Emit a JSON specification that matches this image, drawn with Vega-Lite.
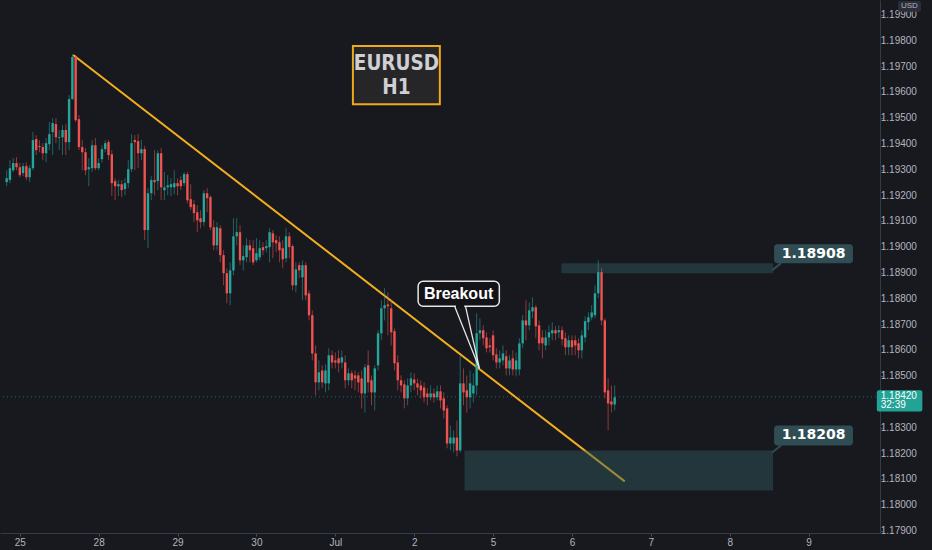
{
"$schema": "https://vega.github.io/schema/vega-lite/v6.json",
"width": 880,
"height": 533,
"autosize": {"type": "none"},
"padding": {"left": 0, "top": 0, "right": 52, "bottom": 17},
"background": "#18181f",
"config": {
"view": {"stroke": null},
"axis": {"labelFlush": false, "grid": false, "tickSize": 3,
"domainColor": "#363a45", "tickColor": "#4a4e59", "labelColor": "#b2b5be",
"labelFont": "Liberation Sans", "labelFontSize": 10},
"axisX": {"labelOverlap": false, "labelPadding": 1}
},
"datasets": {
"candles": [
{"t":-4,"o":1.19252,"h":1.19298,"l":1.19236,"c":1.19267},
{"t":-3,"o":1.19260,"h":1.19337,"l":1.19248,"c":1.19306},
{"t":-2,"o":1.19298,"h":1.19345,"l":1.19291,"c":1.19326},
{"t":-1,"o":1.19326,"h":1.19349,"l":1.19298,"c":1.19310},
{"t":0,"o":1.19310,"h":1.19326,"l":1.19271,"c":1.19279},
{"t":1,"o":1.19287,"h":1.19326,"l":1.19275,"c":1.19314},
{"t":2,"o":1.19314,"h":1.19329,"l":1.19260,"c":1.19271},
{"t":3,"o":1.19271,"h":1.19318,"l":1.19252,"c":1.19306},
{"t":4,"o":1.19306,"h":1.19446,"l":1.19298,"c":1.19415},
{"t":5,"o":1.19419,"h":1.19434,"l":1.19357,"c":1.19376},
{"t":6,"o":1.19392,"h":1.19415,"l":1.19368,"c":1.19388},
{"t":7,"o":1.19388,"h":1.19403,"l":1.19337,"c":1.19364},
{"t":8,"o":1.19364,"h":1.19423,"l":1.19329,"c":1.19403},
{"t":9,"o":1.19399,"h":1.19485,"l":1.19376,"c":1.19438},
{"t":10,"o":1.19446,"h":1.19500,"l":1.19357,"c":1.19481},
{"t":11,"o":1.19477,"h":1.19500,"l":1.19403,"c":1.19426},
{"t":12,"o":1.19423,"h":1.19454,"l":1.19376,"c":1.19426},
{"t":13,"o":1.19426,"h":1.19473,"l":1.19357,"c":1.19454},
{"t":14,"o":1.19454,"h":1.19477,"l":1.19357,"c":1.19407},
{"t":15,"o":1.19407,"h":1.19589,"l":1.19376,"c":1.19574},
{"t":16,"o":1.19574,"h":1.19748,"l":1.19570,"c":1.19737},
{"t":17,"o":1.19737,"h":1.19745,"l":1.19485,"c":1.19492},
{"t":18,"o":1.19496,"h":1.19512,"l":1.19376,"c":1.19388},
{"t":19,"o":1.19388,"h":1.19415,"l":1.19298,"c":1.19368},
{"t":20,"o":1.19368,"h":1.19384,"l":1.19279,"c":1.19298},
{"t":21,"o":1.19302,"h":1.19345,"l":1.19236,"c":1.19310},
{"t":22,"o":1.19306,"h":1.19415,"l":1.19291,"c":1.19395},
{"t":23,"o":1.19395,"h":1.19423,"l":1.19298,"c":1.19306},
{"t":24,"o":1.19306,"h":1.19345,"l":1.19298,"c":1.19326},
{"t":25,"o":1.19341,"h":1.19395,"l":1.19329,"c":1.19380},
{"t":26,"o":1.19380,"h":1.19415,"l":1.19368,"c":1.19403},
{"t":27,"o":1.19407,"h":1.19415,"l":1.19337,"c":1.19357},
{"t":28,"o":1.19360,"h":1.19376,"l":1.19198,"c":1.19248},
{"t":29,"o":1.19256,"h":1.19267,"l":1.19182,"c":1.19236},
{"t":30,"o":1.19236,"h":1.19260,"l":1.19198,"c":1.19244},
{"t":31,"o":1.19244,"h":1.19260,"l":1.19194,"c":1.19221},
{"t":32,"o":1.19225,"h":1.19267,"l":1.19201,"c":1.19248},
{"t":33,"o":1.19248,"h":1.19337,"l":1.19229,"c":1.19302},
{"t":34,"o":1.19302,"h":1.19438,"l":1.19291,"c":1.19403},
{"t":35,"o":1.19415,"h":1.19434,"l":1.19298,"c":1.19407},
{"t":36,"o":1.19411,"h":1.19438,"l":1.19306,"c":1.19364},
{"t":37,"o":1.19364,"h":1.19415,"l":1.19337,"c":1.19380},
{"t":38,"o":1.19380,"h":1.19392,"l":1.19027,"c":1.19066},
{"t":39,"o":1.19066,"h":1.19229,"l":1.18996,"c":1.19209},
{"t":40,"o":1.19209,"h":1.19275,"l":1.19182,"c":1.19260},
{"t":41,"o":1.19260,"h":1.19376,"l":1.19201,"c":1.19252},
{"t":42,"o":1.19256,"h":1.19376,"l":1.19221,"c":1.19364},
{"t":43,"o":1.19364,"h":1.19384,"l":1.19182,"c":1.19232},
{"t":44,"o":1.19221,"h":1.19291,"l":1.19182,"c":1.19232},
{"t":45,"o":1.19232,"h":1.19279,"l":1.19201,"c":1.19240},
{"t":46,"o":1.19232,"h":1.19267,"l":1.19198,"c":1.19244},
{"t":47,"o":1.19232,"h":1.19298,"l":1.19205,"c":1.19248},
{"t":48,"o":1.19248,"h":1.19267,"l":1.19201,"c":1.19236},
{"t":49,"o":1.19260,"h":1.19275,"l":1.19221,"c":1.19236},
{"t":50,"o":1.19248,"h":1.19291,"l":1.19236,"c":1.19283},
{"t":51,"o":1.19283,"h":1.19291,"l":1.19170,"c":1.19182},
{"t":52,"o":1.19186,"h":1.19244,"l":1.19143,"c":1.19155},
{"t":53,"o":1.19166,"h":1.19182,"l":1.19097,"c":1.19132},
{"t":54,"o":1.19135,"h":1.19163,"l":1.19058,"c":1.19104},
{"t":55,"o":1.19112,"h":1.19143,"l":1.19073,"c":1.19097},
{"t":56,"o":1.19097,"h":1.19221,"l":1.19081,"c":1.19209},
{"t":57,"o":1.19209,"h":1.19229,"l":1.19135,"c":1.19190},
{"t":58,"o":1.19194,"h":1.19201,"l":1.19066,"c":1.19077},
{"t":59,"o":1.19077,"h":1.19104,"l":1.18988,"c":1.19007},
{"t":60,"o":1.19007,"h":1.19097,"l":1.18988,"c":1.19077},
{"t":61,"o":1.19073,"h":1.19085,"l":1.18941,"c":1.18969},
{"t":62,"o":1.18969,"h":1.18988,"l":1.18852,"c":1.18899},
{"t":63,"o":1.18899,"h":1.18918,"l":1.18782,"c":1.18821},
{"t":64,"o":1.18821,"h":1.18941,"l":1.18775,"c":1.18910},
{"t":65,"o":1.18910,"h":1.19112,"l":1.18891,"c":1.19042},
{"t":66,"o":1.19042,"h":1.19112,"l":1.19007,"c":1.19058},
{"t":67,"o":1.19058,"h":1.19085,"l":1.18930,"c":1.18949},
{"t":68,"o":1.18949,"h":1.19007,"l":1.18910,"c":1.18965},
{"t":69,"o":1.18961,"h":1.19035,"l":1.18941,"c":1.19007},
{"t":70,"o":1.19007,"h":1.19027,"l":1.18941,"c":1.18988},
{"t":71,"o":1.18996,"h":1.19027,"l":1.18930,"c":1.18941},
{"t":72,"o":1.18949,"h":1.19035,"l":1.18941,"c":1.18976},
{"t":73,"o":1.18961,"h":1.19027,"l":1.18949,"c":1.18996},
{"t":74,"o":1.19000,"h":1.19019,"l":1.18969,"c":1.18988},
{"t":75,"o":1.18996,"h":1.19027,"l":1.18980,"c":1.19004},
{"t":76,"o":1.19000,"h":1.19073,"l":1.18941,"c":1.19058},
{"t":77,"o":1.19054,"h":1.19066,"l":1.18957,"c":1.19019},
{"t":78,"o":1.19027,"h":1.19046,"l":1.18980,"c":1.19015},
{"t":79,"o":1.19019,"h":1.19042,"l":1.18941,"c":1.18988},
{"t":80,"o":1.18996,"h":1.19027,"l":1.18918,"c":1.18953},
{"t":81,"o":1.18957,"h":1.19073,"l":1.18941,"c":1.19042},
{"t":82,"o":1.19042,"h":1.19058,"l":1.18957,"c":1.19000},
{"t":83,"o":1.19004,"h":1.19011,"l":1.18833,"c":1.18852},
{"t":84,"o":1.18852,"h":1.18941,"l":1.18825,"c":1.18914},
{"t":85,"o":1.18930,"h":1.18941,"l":1.18879,"c":1.18910},
{"t":86,"o":1.18883,"h":1.18949,"l":1.18794,"c":1.18930},
{"t":87,"o":1.18930,"h":1.18941,"l":1.18794,"c":1.18813},
{"t":88,"o":1.18821,"h":1.18833,"l":1.18716,"c":1.18736},
{"t":89,"o":1.18736,"h":1.18755,"l":1.18561,"c":1.18588},
{"t":90,"o":1.18588,"h":1.18619,"l":1.18425,"c":1.18476},
{"t":91,"o":1.18476,"h":1.18561,"l":1.18445,"c":1.18515},
{"t":92,"o":1.18522,"h":1.18542,"l":1.18453,"c":1.18476},
{"t":93,"o":1.18472,"h":1.18546,"l":1.18437,"c":1.18522},
{"t":94,"o":1.18472,"h":1.18608,"l":1.18445,"c":1.18581},
{"t":95,"o":1.18581,"h":1.18600,"l":1.18530,"c":1.18553},
{"t":96,"o":1.18561,"h":1.18592,"l":1.18530,"c":1.18553},
{"t":97,"o":1.18569,"h":1.18600,"l":1.18515,"c":1.18550},
{"t":98,"o":1.18553,"h":1.18600,"l":1.18530,"c":1.18573},
{"t":99,"o":1.18553,"h":1.18581,"l":1.18453,"c":1.18484},
{"t":100,"o":1.18484,"h":1.18530,"l":1.18464,"c":1.18511},
{"t":101,"o":1.18511,"h":1.18522,"l":1.18453,"c":1.18484},
{"t":102,"o":1.18503,"h":1.18522,"l":1.18445,"c":1.18491},
{"t":103,"o":1.18503,"h":1.18515,"l":1.18437,"c":1.18476},
{"t":104,"o":1.18491,"h":1.18522,"l":1.18375,"c":1.18433},
{"t":105,"o":1.18433,"h":1.18546,"l":1.18359,"c":1.18534},
{"t":106,"o":1.18542,"h":1.18600,"l":1.18437,"c":1.18476},
{"t":107,"o":1.18484,"h":1.18503,"l":1.18387,"c":1.18437},
{"t":108,"o":1.18437,"h":1.18542,"l":1.18367,"c":1.18530},
{"t":109,"o":1.18542,"h":1.18678,"l":1.18522,"c":1.18666},
{"t":110,"o":1.18666,"h":1.18794,"l":1.18639,"c":1.18763},
{"t":111,"o":1.18763,"h":1.18841,"l":1.18716,"c":1.18775},
{"t":112,"o":1.18778,"h":1.18825,"l":1.18658,"c":1.18771},
{"t":113,"o":1.18763,"h":1.18794,"l":1.18619,"c":1.18670},
{"t":114,"o":1.18674,"h":1.18685,"l":1.18522,"c":1.18550},
{"t":115,"o":1.18553,"h":1.18581,"l":1.18445,"c":1.18484},
{"t":116,"o":1.18484,"h":1.18503,"l":1.18437,"c":1.18464},
{"t":117,"o":1.18468,"h":1.18484,"l":1.18375,"c":1.18414},
{"t":118,"o":1.18414,"h":1.18491,"l":1.18387,"c":1.18464},
{"t":119,"o":1.18464,"h":1.18515,"l":1.18437,"c":1.18491},
{"t":120,"o":1.18487,"h":1.18511,"l":1.18445,"c":1.18472},
{"t":121,"o":1.18472,"h":1.18491,"l":1.18425,"c":1.18456},
{"t":122,"o":1.18464,"h":1.18484,"l":1.18414,"c":1.18445},
{"t":123,"o":1.18456,"h":1.18476,"l":1.18398,"c":1.18418},
{"t":124,"o":1.18433,"h":1.18453,"l":1.18387,"c":1.18418},
{"t":125,"o":1.18418,"h":1.18464,"l":1.18406,"c":1.18433},
{"t":126,"o":1.18433,"h":1.18453,"l":1.18398,"c":1.18418},
{"t":127,"o":1.18418,"h":1.18464,"l":1.18406,"c":1.18441},
{"t":128,"o":1.18441,"h":1.18464,"l":1.18375,"c":1.18406},
{"t":129,"o":1.18414,"h":1.18437,"l":1.18336,"c":1.18367},
{"t":130,"o":1.18375,"h":1.18387,"l":1.18220,"c":1.18239},
{"t":131,"o":1.18239,"h":1.18309,"l":1.18212,"c":1.18262},
{"t":132,"o":1.18239,"h":1.18290,"l":1.18204,"c":1.18262},
{"t":133,"o":1.18262,"h":1.18328,"l":1.18189,"c":1.18212},
{"t":134,"o":1.18212,"h":1.18577,"l":1.18204,"c":1.18472},
{"t":135,"o":1.18472,"h":1.18530,"l":1.18387,"c":1.18437},
{"t":136,"o":1.18445,"h":1.18503,"l":1.18359,"c":1.18418},
{"t":137,"o":1.18418,"h":1.18522,"l":1.18375,"c":1.18472},
{"t":138,"o":1.18433,"h":1.18511,"l":1.18398,"c":1.18464},
{"t":139,"o":1.18464,"h":1.18744,"l":1.18425,"c":1.18666},
{"t":140,"o":1.18666,"h":1.18724,"l":1.18639,"c":1.18678},
{"t":141,"o":1.18678,"h":1.18697,"l":1.18619,"c":1.18647},
{"t":142,"o":1.18650,"h":1.18670,"l":1.18592,"c":1.18608},
{"t":143,"o":1.18619,"h":1.18647,"l":1.18592,"c":1.18612},
{"t":144,"o":1.18658,"h":1.18678,"l":1.18561,"c":1.18581},
{"t":145,"o":1.18584,"h":1.18608,"l":1.18530,"c":1.18553},
{"t":146,"o":1.18553,"h":1.18600,"l":1.18530,"c":1.18569},
{"t":147,"o":1.18561,"h":1.18619,"l":1.18542,"c":1.18588},
{"t":148,"o":1.18577,"h":1.18600,"l":1.18503,"c":1.18530},
{"t":149,"o":1.18530,"h":1.18581,"l":1.18503,"c":1.18561},
{"t":150,"o":1.18569,"h":1.18600,"l":1.18503,"c":1.18526},
{"t":151,"o":1.18526,"h":1.18592,"l":1.18499,"c":1.18561},
{"t":152,"o":1.18526,"h":1.18647,"l":1.18503,"c":1.18627},
{"t":153,"o":1.18627,"h":1.18736,"l":1.18608,"c":1.18716},
{"t":154,"o":1.18716,"h":1.18794,"l":1.18639,"c":1.18697},
{"t":155,"o":1.18697,"h":1.18786,"l":1.18678,"c":1.18755},
{"t":156,"o":1.18751,"h":1.18806,"l":1.18724,"c":1.18767},
{"t":157,"o":1.18767,"h":1.18775,"l":1.18647,"c":1.18693},
{"t":158,"o":1.18697,"h":1.18716,"l":1.18600,"c":1.18627},
{"t":159,"o":1.18650,"h":1.18678,"l":1.18569,"c":1.18627},
{"t":160,"o":1.18619,"h":1.18678,"l":1.18600,"c":1.18650},
{"t":161,"o":1.18650,"h":1.18697,"l":1.18619,"c":1.18670},
{"t":162,"o":1.18666,"h":1.18709,"l":1.18639,"c":1.18678},
{"t":163,"o":1.18678,"h":1.18693,"l":1.18639,"c":1.18666},
{"t":164,"o":1.18670,"h":1.18697,"l":1.18647,"c":1.18678},
{"t":165,"o":1.18678,"h":1.18693,"l":1.18619,"c":1.18643},
{"t":166,"o":1.18647,"h":1.18670,"l":1.18581,"c":1.18612},
{"t":167,"o":1.18612,"h":1.18658,"l":1.18581,"c":1.18639},
{"t":168,"o":1.18639,"h":1.18658,"l":1.18581,"c":1.18612},
{"t":169,"o":1.18639,"h":1.18658,"l":1.18581,"c":1.18619},
{"t":170,"o":1.18627,"h":1.18647,"l":1.18569,"c":1.18600},
{"t":171,"o":1.18600,"h":1.18678,"l":1.18569,"c":1.18658},
{"t":172,"o":1.18650,"h":1.18732,"l":1.18631,"c":1.18713},
{"t":173,"o":1.18709,"h":1.18747,"l":1.18678,"c":1.18728},
{"t":174,"o":1.18728,"h":1.18775,"l":1.18716,"c":1.18747},
{"t":175,"o":1.18736,"h":1.18852,"l":1.18724,"c":1.18821},
{"t":176,"o":1.18821,"h":1.18949,"l":1.18802,"c":1.18903},
{"t":177,"o":1.18903,"h":1.18918,"l":1.18697,"c":1.18716},
{"t":178,"o":1.18716,"h":1.18724,"l":1.18414,"c":1.18437},
{"t":179,"o":1.18445,"h":1.18491,"l":1.18290,"c":1.18394},
{"t":180,"o":1.18402,"h":1.18464,"l":1.18359,"c":1.18390},
{"t":181,"o":1.18390,"h":1.18464,"l":1.18367,"c":1.18418}
],
"boxes": [
{"k": "title", "x1": 101.35, "x2": 127.8, "y1": 1.1978, "y2": 1.19554},
{"k": "breakout", "x1": 121.2, "x2": 145.9, "y1": 1.18868, "y2": 1.18771},
{"k": "last", "x1": 260.75, "x2": 274.6, "y1": 1.18445, "y2": 1.18363},
{"k": "usd", "x1": 267.2, "x2": 274.2, "y1": 1.19954, "y2": 1.19912}
],
"ylabels": [
{"p": 1.179}, {"p": 1.18}, {"p": 1.181}, {"p": 1.182}, {"p": 1.183}, {"p": 1.185},
{"p": 1.186}, {"p": 1.187}, {"p": 1.188}, {"p": 1.189}, {"p": 1.19}, {"p": 1.191}, {"p": 1.192},
{"p": 1.193}, {"p": 1.194}, {"p": 1.195}, {"p": 1.196}, {"p": 1.197}, {"p": 1.198}, {"p": 1.199}
]
},
"layer": [
{
"data": {"values": [{"t": 16.24, "p": 1.19745}, {"t": 184.06, "p": 1.18092}]},
"mark": {"type": "line", "color": "#f2b01e", "strokeWidth": 2},
"encoding": {
"x": {"field": "t", "type": "quantitative", "title": null,
"scale": {"domain": [-4.5, 260.2], "nice": false, "zero": false},
"axis": {"orient": "bottom", "values": [0, 24, 48, 72, 96, 120, 144, 168, 192, 216, 240],
"labelExpr": "['25','28','29','30','Jul','2','5','6','7','8','9'][round(datum.value/24)]",
"labelOverlap": false, "labelFlush": false}},
"y": {"field": "p", "type": "quantitative", "title": null,
"scale": {"domain": [1.17892, 1.19958], "nice": false, "zero": false},
"axis": {"orient": "right", "values": [1.179, 1.18, 1.181, 1.182, 1.183, 1.184, 1.185, 1.186, 1.187, 1.188, 1.189, 1.19, 1.191, 1.192, 1.193, 1.194, 1.195, 1.196, 1.197, 1.198, 1.199],
"labels": false}}
}
},
{
"data": {"values": [
{"x1": 164.8, "x2": 229.2, "y1": 1.18938, "y2": 1.18899},
{"x1": 135.3, "x2": 229.2, "y1": 1.18212, "y2": 1.18057}
]},
"mark": {"type": "rect", "color": "#2e5a5f", "opacity": 0.45},
"encoding": {
"x": {"field": "x1", "type": "quantitative", "title": null},
"x2": {"field": "x2"},
"y": {"field": "y1", "type": "quantitative", "title": null},
"y2": {"field": "y2"}
}
},
{
"data": {"values": [{"p": 1.1842}]},
"mark": {"type": "rule", "color": "#26a69a", "opacity": 0.55, "strokeDash": [1, 3], "strokeWidth": 1},
"encoding": {"y": {"field": "p", "type": "quantitative", "title": null}}
},
{
"data": {"name": "candles"},
"mark": {"type": "rule", "strokeWidth": 1, "opacity": 0.55},
"encoding": {
"x": {"field": "t", "type": "quantitative", "title": null},
"y": {"field": "l", "type": "quantitative", "title": null},
"y2": {"field": "h"},
"color": {"condition": {"test": "datum.c >= datum.o", "value": "#26a69a"}, "value": "#ef5350"}
}
},
{
"data": {"name": "candles"},
"mark": {"type": "bar", "size": 2.4},
"encoding": {
"x": {"field": "t", "type": "quantitative", "title": null},
"y": {"field": "o", "type": "quantitative", "title": null},
"y2": {"field": "c"},
"color": {"condition": {"test": "datum.c >= datum.o", "value": "#26a69a"}, "value": "#ef5350"}
}
},
{
"data": {"name": "boxes"},
"transform": [{"filter": "datum.k == 'title'"}],
"mark": {"type": "rect", "fill": "#262629", "stroke": "#f0a81c", "strokeWidth": 2},
"encoding": {
"x": {"field": "x1", "type": "quantitative", "title": null},
"x2": {"field": "x2"},
"y": {"field": "y1", "type": "quantitative", "title": null},
"y2": {"field": "y2"}
}
},
{
"data": {"values": [{"t": 114.6, "p": 1.1971, "s": "EURUSD"}, {"t": 114.6, "p": 1.19617, "s": "H1"}]},
"mark": {"type": "text", "font": "DejaVu Sans Condensed", "fontWeight": "bold", "fontSize": 20.5, "color": "#cfcfd4", "align": "center", "baseline": "middle"},
"encoding": {
"x": {"field": "t", "type": "quantitative", "title": null},
"y": {"field": "p", "type": "quantitative", "title": null},
"text": {"field": "s"}
}
},
{
"data": {"name": "boxes"},
"transform": [{"filter": "datum.k == 'breakout'"}],
"mark": {"type": "rect", "fill": "#131318", "stroke": "#e6e6e6", "strokeWidth": 1.5, "cornerRadius": 5},
"encoding": {
"x": {"field": "x1", "type": "quantitative", "title": null},
"x2": {"field": "x2"},
"y": {"field": "y1", "type": "quantitative", "title": null},
"y2": {"field": "y2"}
}
},
{
"data": {"values": [{"a": 132.7, "b": 135.2, "p": 1.18771}]},
"mark": {"type": "rule", "color": "#131318", "strokeWidth": 2.5},
"encoding": {
"x": {"field": "a", "type": "quantitative", "title": null},
"x2": {"field": "b"},
"y": {"field": "p", "type": "quantitative", "title": null}
}
},
{
"data": {"values": [{"t": 132.3, "p": 1.18771, "k": 1}, {"t": 139.85, "p": 1.1853, "k": 2}, {"t": 135.6, "p": 1.18771, "k": 3}]},
"mark": {"type": "line", "color": "#e6e6e6", "strokeWidth": 1.3},
"encoding": {
"x": {"field": "t", "type": "quantitative", "title": null},
"y": {"field": "p", "type": "quantitative", "title": null},
"order": {"field": "k"}
}
},
{
"data": {"values": [{"t": 133.5, "p": 1.18819, "s": "Breakout"}]},
"mark": {"type": "text", "font": "Liberation Sans", "fontWeight": "bold", "fontSize": 16, "color": "#ffffff", "align": "center", "baseline": "middle"},
"encoding": {
"x": {"field": "t", "type": "quantitative", "title": null},
"y": {"field": "p", "type": "quantitative", "title": null},
"text": {"field": "s"}
}
},
{
"data": {"values": [
{"x1": 231.6, "x2": 228.9, "y1": 1.18938, "y2": 1.1891},
{"x1": 231.6, "x2": 228.9, "y1": 1.18231, "y2": 1.18204}
]},
"mark": {"type": "rule", "color": "#2f4d53", "strokeWidth": 2},
"encoding": {
"x": {"field": "x1", "type": "quantitative", "title": null},
"x2": {"field": "x2"},
"y": {"field": "y1", "type": "quantitative", "title": null},
"y2": {"field": "y2"}
}
},
{
"data": {"values": [
{"x1": 229.5, "x2": 253.5, "y1": 1.19011, "y2": 1.18938},
{"x1": 229.5, "x2": 253.5, "y1": 1.18309, "y2": 1.18231}
]},
"mark": {"type": "rect", "fill": "#2f4d53", "cornerRadius": 3},
"encoding": {
"x": {"field": "x1", "type": "quantitative", "title": null},
"x2": {"field": "x2"},
"y": {"field": "y1", "type": "quantitative", "title": null},
"y2": {"field": "y2"}
}
},
{
"data": {"values": [
{"t": 241.5, "p": 1.18974, "s": "1.18908"},
{"t": 241.5, "p": 1.1827, "s": "1.18208"}
]},
"mark": {"type": "text", "font": "DejaVu Sans", "fontWeight": "bold", "fontSize": 14, "color": "#ffffff", "align": "center", "baseline": "middle"},
"encoding": {
"x": {"field": "t", "type": "quantitative", "title": null},
"y": {"field": "p", "type": "quantitative", "title": null},
"text": {"field": "s"}
}
},
{
"data": {"name": "ylabels"},
"mark": {"type": "text", "font": "Liberation Sans", "fontSize": 10, "color": "#b2b5be", "align": "left", "baseline": "middle"},
"encoding": {
"x": {"datum": 261.95, "type": "quantitative"},
"y": {"field": "p", "type": "quantitative", "title": null},
"text": {"field": "p", "format": ".5f"}
}
},
{
"data": {"name": "boxes"},
"transform": [{"filter": "datum.k == 'last' || datum.k == 'usd'"}],
"mark": {"type": "rect", "cornerRadius": 2},
"encoding": {
"x": {"field": "x1", "type": "quantitative", "title": null},
"x2": {"field": "x2"},
"y": {"field": "y1", "type": "quantitative", "title": null},
"y2": {"field": "y2"},
"color": {"condition": {"test": "datum.k == 'last'", "value": "#22a395"}, "value": "#2a2e39"}
}
},
{
"data": {"values": [
{"t": 261.95, "p": 1.18423, "s": "1.18420"},
{"t": 261.95, "p": 1.18387, "s": "32:39"},
{"t": 268.1, "p": 1.19934, "s": "USD"}
]},
"mark": {"type": "text", "font": "Liberation Sans", "fontSize": 10, "color": "#ffffff", "align": "left", "baseline": "middle"},
"encoding": {
"x": {"field": "t", "type": "quantitative", "title": null},
"y": {"field": "p", "type": "quantitative", "title": null},
"text": {"field": "s"},
"size": {"condition": {"test": "datum.s == 'USD'", "value": 8}, "value": 10},
"color": {"condition": {"test": "datum.s == 'USD'", "value": "#b2b5be"}, "value": "#ffffff"}
}
}
]
}
